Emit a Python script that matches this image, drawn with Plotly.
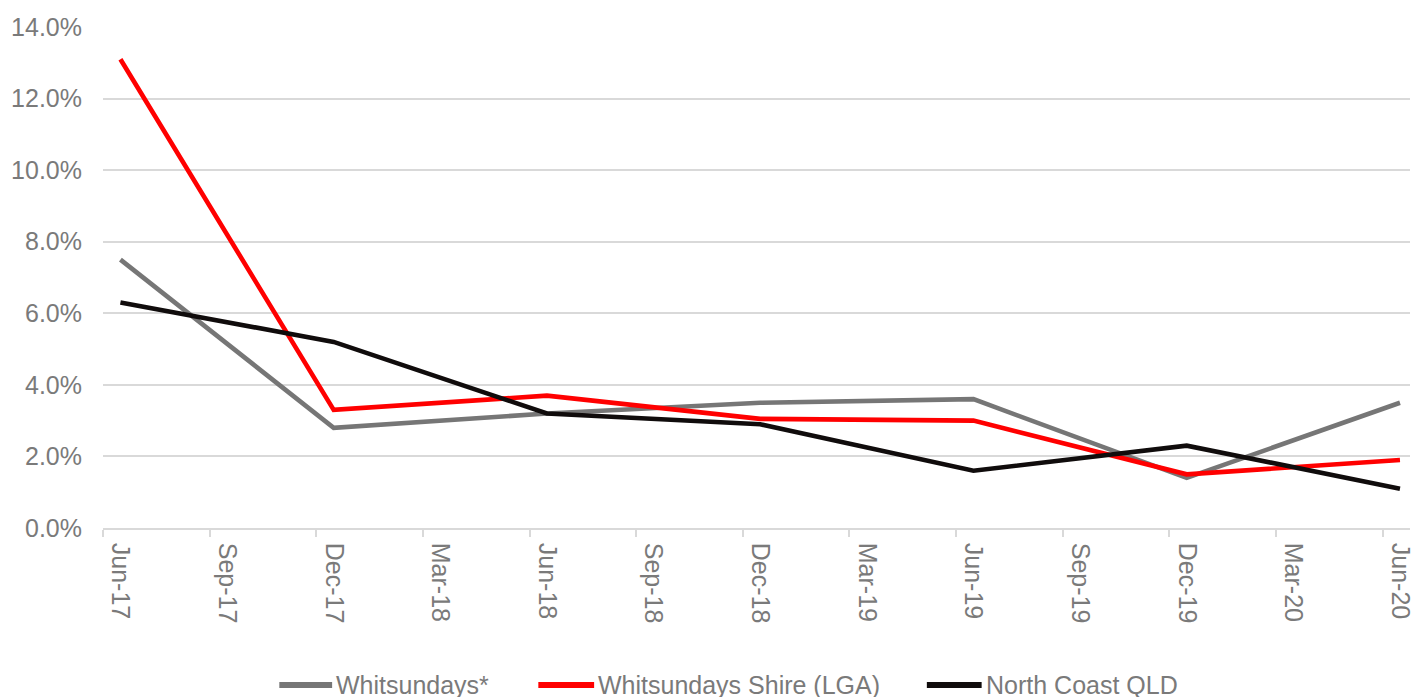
import plotly.graph_objects as go

categories = ["Jun-17", "Sep-17", "Dec-17", "Mar-18", "Jun-18", "Sep-18", "Dec-18",
              "Mar-19", "Jun-19", "Sep-19", "Dec-19", "Mar-20", "Jun-20"]
whitsundays = [7.5, None, 2.8, None, 3.2, None, 3.5, None, 3.6, None, 1.4, None, 3.5]
whitsundays_shire = [13.1, None, 3.3, None, 3.7, None, 3.05, None, 3.0, None, 1.5, None, 1.9]
north_coast = [6.3, None, 5.2, None, 3.2, None, 2.9, None, 1.6, None, 2.3, None, 1.1]

series_names = ["Whitsundays*", "Whitsundays Shire (LGA)", "North Coast QLD"]
series_colors = ["#767676", "#FF0000", "#100C0C"]
y_ticks = [0, 2, 4, 6, 8, 10, 12, 14]

FONT = "Liberation Sans, Arial, sans-serif"
TXT = "#7A7A7A"
GRID = "#D9D9D9"
FS = 25

x_idx = list(range(len(categories)))
fig = go.Figure()
for name, vals, col in zip(series_names, [whitsundays, whitsundays_shire, north_coast], series_colors):
    fig.add_trace(go.Scatter(x=x_idx, y=[None if v is None else v / 100 for v in vals],
                             mode="lines", name=name, connectgaps=True,
                             line=dict(color=col, width=4.6), showlegend=False))

W, H = 1415, 697
L, R, T, B = 103, 0, 27, 169
fig.update_layout(
    width=W, height=H, margin=dict(l=L, r=R, t=T, b=B),
    paper_bgcolor="white", plot_bgcolor="white",
    font=dict(family=FONT, size=FS, color=TXT),
    showlegend=False,
)
fig.update_xaxes(
    range=[-0.1635, 12.094], tickmode="array", tickvals=x_idx, ticktext=categories,
    tickangle=90, ticks="", showgrid=False, zeroline=False,
    showline=True, linecolor=GRID, linewidth=1.5,
    ticklabelstandoff=8, ticklabeloverflow="allow",
    minor=dict(ticks="outside", tick0=-0.1635, dtick=1, ticklen=7, tickcolor=GRID,
               tickwidth=1.5, showgrid=False),
    tickfont=dict(family=FONT, size=FS, color=TXT),
)
fig.update_yaxes(
    range=[0, 0.14], tickmode="array", tickvals=[v / 100 for v in y_ticks],
    ticktext=[f"{v:.1f}%" for v in y_ticks],
    showgrid=True, gridcolor=GRID, gridwidth=1.5, zeroline=False, showline=False,
    ticks="", ticklabelstandoff=20,
    tickfont=dict(family=FONT, size=FS, color=TXT),
)

# manual legend (paper coordinates relative to plot area)
pw, ph = W - L - R, H - T - B
def px(x):
    return (x - L) / pw
def py(y):
    return (H - B - y) / ph

legend_items = [(280, 333), (540, 596), (930, 985)]
ly = 685
for (x0, x1), name, col in zip(legend_items, series_names, series_colors):
    fig.add_shape(type="line", xref="paper", yref="paper", x0=px(x0), x1=px(x1),
                  y0=py(ly), y1=py(ly), line=dict(color=col, width=6))
    fig.add_annotation(xref="paper", yref="paper", x=px(x1 + 2), y=py(ly), text=name,
                       showarrow=False, xanchor="left", yanchor="middle",
                       font=dict(family=FONT, size=FS, color=TXT))

fig.write_html("out.html")
